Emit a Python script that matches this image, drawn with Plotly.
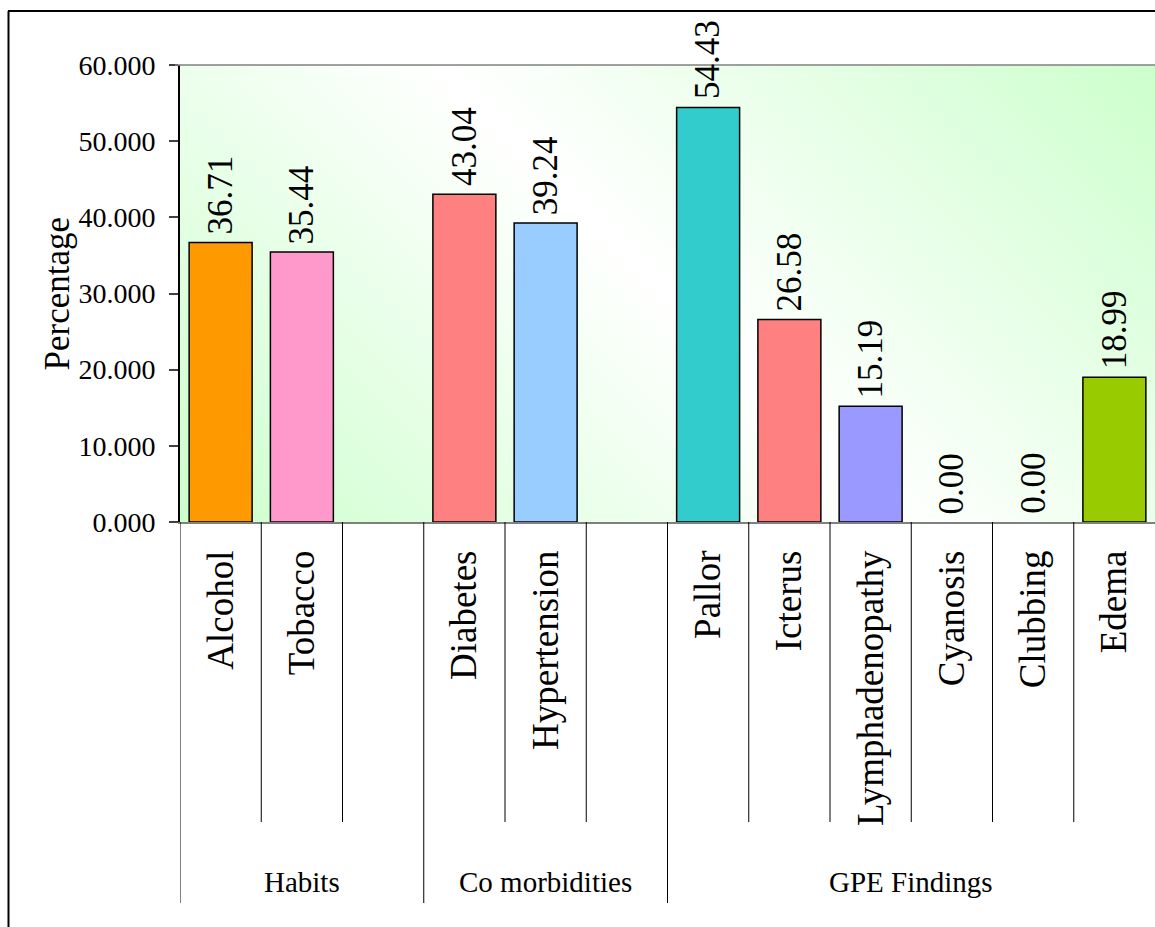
import base64
import plotly.graph_objects as go

# ---- data -------------------------------------------------------------
categories = ["Alcohol", "Tobacco", "", "Diabetes", "Hypertension", "",
              "Pallor", "Icterus", "Lymphadenopathy", "Cyanosis", "Clubbing", "Edema"]
values = [36.71, 35.44, None, 43.04, 39.24, None,
          54.43, 26.58, 15.19, 0.00, 0.00, 18.99]
bar_colors = ["#ff9900", "#ff99cc", "#ffffff", "#ff8080", "#99ccff", "#ffffff",
              "#33cccc", "#ff8080", "#9999ff", "#ccccff", "#ccccff", "#99cc00"]
groups = ["Habits", "Co morbidities", "GPE Findings"]
group_spans = [(0, 2), (3, 5), (6, 11)]          # first / last slot of each group
y_ticks = [0, 10, 20, 30, 40, 50, 60]

# ---- geometry ---------------------------------------------------------
W, H = 1155, 927
ML, MR, MT, MB = 180, 0, 65, 405
PW, PH = W - ML - MR, H - MT - MB
FONT = "Liberation Serif, Times New Roman, serif"


def px_x(px):
    return (px - ML) / PW


def px_y(py):
    return (H - MB - py) / PH


# diagonal two-tone background for the plotting area
cx, cy = PW / 2, PH / 2
half = (cx + cy) / 2 ** 0.5
d = half / 2 ** 0.5
svg = (
    f'<svg xmlns="http://www.w3.org/2000/svg" width="{PW}" height="{PH}" '
    f'viewBox="0 0 {PW} {PH}" preserveAspectRatio="none"><defs>'
    f'<linearGradient id="g" gradientUnits="userSpaceOnUse" '
    f'x1="{cx - d}" y1="{cy + d}" x2="{cx + d}" y2="{cy - d}">'
    '<stop offset="0" stop-color="#ccffcc"/><stop offset="0.5" stop-color="#ffffff"/>'
    '<stop offset="1" stop-color="#ccffcc"/></linearGradient></defs>'
    f'<rect width="{PW}" height="{PH}" fill="url(#g)"/></svg>'
)
bg_src = "data:image/svg+xml;base64," + base64.b64encode(svg.encode()).decode()

xs = list(range(len(categories)))
bar_y = [v if v is not None else 0 for v in values]
line_w = [1.5 if (v is not None and v > 0) else 0 for v in values]

fig = go.Figure()
fig.add_trace(go.Bar(
    x=xs, y=bar_y,
    marker=dict(color=bar_colors, line=dict(color="#000000", width=line_w)),
    hoverinfo="skip",
))

annotations = []
for i, v in enumerate(values):
    if v is None:
        continue
    annotations.append(dict(
        x=i, y=v, xref="x", yref="y", text=f"{v:.2f}", showarrow=False,
        textangle=-90, xanchor="center", yanchor="bottom", yshift=6,
        font=dict(family=FONT, size=35, color="#000000"),
    ))

for name, (a, b) in zip(groups, group_spans):
    annotations.append(dict(
        x=(a + b) / 2, y=px_y(882), xref="x", yref="paper", text=name,
        showarrow=False, xanchor="center", yanchor="middle",
        font=dict(family=FONT, size=29, color="#000000"),
    ))

annotations.append(dict(
    x=px_x(57), y=0.5, xref="paper", yref="paper", text="Percentage",
    showarrow=False, textangle=-90, xanchor="center", yanchor="middle",
    font=dict(family=FONT, size=35, color="#000000"),
))

shapes = []
group_starts = {a for a, _ in group_spans}
for i in range(len(categories)):
    y_end = px_y(903) if i in group_starts else px_y(822)
    shapes.append(dict(type="line", xref="x", yref="paper",
                       x0=i - 0.5, x1=i - 0.5, y0=0, y1=y_end,
                       line=dict(color="#000000", width=1)))
# top edge of the plotting area
shapes.append(dict(type="line", xref="paper", yref="paper",
                   x0=px_x(175), x1=1.01, y0=1, y1=1,
                   line=dict(color="#808080", width=1.5)))
# outer frame (left and top)
shapes.append(dict(type="line", xref="paper", yref="paper",
                   x0=px_x(8.5), x1=px_x(8.5), y0=px_y(11), y1=px_y(930),
                   line=dict(color="#000000", width=2)))
shapes.append(dict(type="line", xref="paper", yref="paper",
                   x0=px_x(8), x1=px_x(1160), y0=px_y(11), y1=px_y(11),
                   line=dict(color="#000000", width=2)))

fig.update_layout(
    width=W, height=H,
    margin=dict(l=ML, r=MR, t=MT, b=MB, pad=0),
    paper_bgcolor="#ffffff",
    plot_bgcolor="rgba(0,0,0,0)",
    showlegend=False,
    bargap=0.225,
    font=dict(family=FONT, color="#000000"),
    images=[dict(source=bg_src, xref="paper", yref="paper", x=0, y=1,
                 sizex=1, sizey=1, xanchor="left", yanchor="top",
                 sizing="stretch", layer="below")],
    annotations=annotations,
    shapes=shapes,
    xaxis=dict(
        range=[-0.5, len(categories) - 0.5],
        tickmode="array", tickvals=xs, ticktext=categories,
        tickangle=-90, ticks="", ticklabelstandoff=12,
        tickfont=dict(family=FONT, size=37, color="#000000"),
        showline=True, linecolor="#808080", linewidth=1.5,
        showgrid=False, zeroline=False, fixedrange=True,
    ),
    yaxis=dict(
        range=[0, 60], tickmode="array", tickvals=y_ticks, tickformat=".3f",
        ticks="outside", ticklen=9, tickwidth=1.5, tickcolor="#404040",
        ticklabelstandoff=8,
        tickfont=dict(family=FONT, size=28, color="#000000"),
        showline=True, linecolor="#000000", linewidth=2,
        showgrid=False, zeroline=False, fixedrange=True,
    ),
)

fig.write_html("out.html")
